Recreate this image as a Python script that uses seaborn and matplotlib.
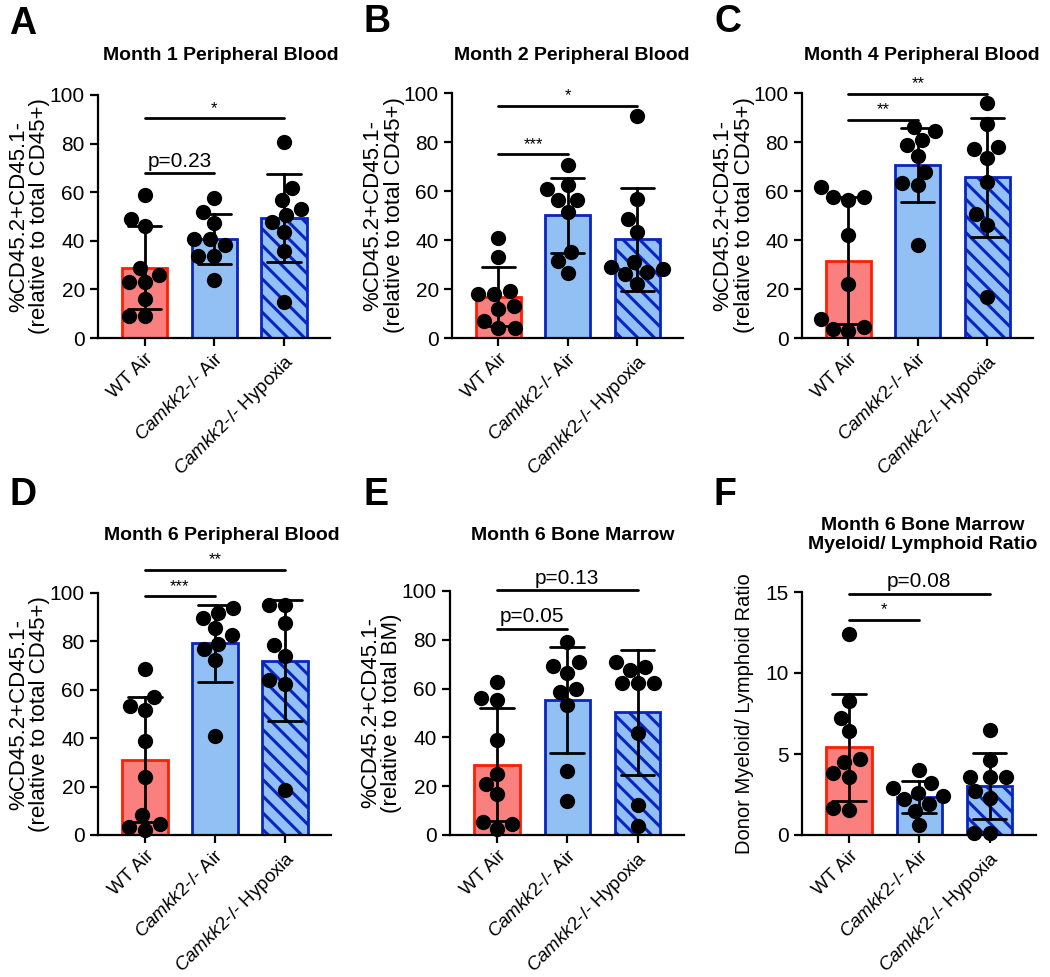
import warnings
import pandas as pd
import seaborn as sns
import matplotlib.pyplot as plt

warnings.filterwarnings('ignore')

groups = ['WT Air', 'Camkk2-/- Air', 'Camkk2-/- Hypoxia']
group_labels = ['WT Air', r'$\mathit{Camkk2}$-/- Air', r'$\mathit{Camkk2}$-/- Hypoxia']

# A - month 1 peripheral blood
a_wt = [59, 49, 46, 29, 26, 23, 23, 16, 9, 9]
a_air = [57.5, 51.8, 47.3, 40.8, 40.8, 38.4, 33.6, 33.6, 24]
a_hyp = [80.8, 61.9, 56.8, 53.2, 50.7, 47.9, 43.8, 35.6, 15]
# B - month 2 peripheral blood
b_wt = [41, 33, 19, 18, 18, 13, 12, 7, 4, 4]
b_air = [70.5, 62.3, 60.9, 56.4, 56.4, 51.4, 34.9, 31.5, 26.7]
b_hyp = [90.7, 56.6, 48.6, 43.4, 31, 29, 28, 27, 26, 22]
# C - month 4 peripheral blood
c_wt = [61.7, 57.6, 57.6, 56.3, 41.9, 22.1, 7.8, 4.4, 3.7, 3.0]
c_air = [86.3, 84.3, 80.9, 78.8, 74.3, 67.9, 63.4, 62.4, 37.8]
c_hyp = [95.9, 87.3, 78.1, 77.2, 73.4, 63.8, 50.8, 46.3, 16.9]
# D - month 6 peripheral blood
d_wt = [68.5, 56.9, 53.5, 51.7, 38.9, 24.1, 8.3, 4.5, 3.3, 2.1]
d_air = [93.8, 91.8, 89.7, 85.4, 82.6, 79.1, 76.7, 72.2, 40.9]
d_hyp = [95.2, 95.2, 87.7, 78.5, 74.0, 64.0, 62.4, 18.6]
# E - month 6 bone marrow
e_wt = [62.6, 56.3, 55.4, 39.0, 25.2, 21.0, 16.6, 5.2, 4.4, 2.3]
e_air = [79.2, 71.0, 69.3, 66.5, 59.7, 58.8, 53.3, 26.1, 13.9]
e_hyp = [71.0, 69.0, 67.6, 62.2, 62.2, 62.2, 41.8, 12.5, 3.5]
# F - month 6 bone marrow myeloid/lymphoid ratio
f_wt = [12.4, 8.3, 7.2, 6.4, 4.7, 4.5, 3.8, 3.6, 1.65, 1.55]
f_air = [4.0, 3.2, 2.9, 2.6, 2.4, 2.2, 1.9, 1.5, 0.6]
f_hyp = [6.5, 4.6, 3.6, 3.6, 3.6, 2.7, 2.3, 0.1, 0.1]

# significance brackets: (from group, to group, height, label)
a_sig = [(0, 1, 67.8, 'p=0.23'), (0, 2, 90.4, '*')]
b_sig = [(0, 1, 74.9, '***'), (0, 2, 94.8, '*')]
c_sig = [(0, 1, 89.1, '**'), (0, 2, 99.6, '**')]
d_sig = [(0, 1, 98.6, '***'), (0, 2, 109.6, '**')]
e_sig = [(0, 1, 84.6, 'p=0.05'), (0, 2, 100.3, 'p=0.13')]
f_sig = [(0, 1, 13.3, '*'), (0, 2, 14.9, 'p=0.08')]

pct_ticks = [0, 20, 40, 60, 80, 100]
ratio_ticks = [0, 5, 10, 15]

fills = ['#FA8080', '#92C0F5', '#92C0F5']
edges = ['#FF1E00', '#0A24C0', '#0A24C0']
hatches = [None, None, '\\\\']

sns.set_style('ticks')
plt.rcParams['font.family'] = ['Liberation Sans', 'DejaVu Sans']
plt.rcParams['mathtext.fontset'] = 'custom'
plt.rcParams['mathtext.it'] = 'Liberation Sans:italic'
plt.rcParams['mathtext.rm'] = 'Liberation Sans'
plt.rcParams['hatch.linewidth'] = 2.2
for key in ['text.color', 'axes.labelcolor', 'xtick.color', 'ytick.color', 'axes.edgecolor']:
    plt.rcParams[key] = 'black'

fig = plt.figure(figsize=(10.5, 9.77), dpi=100)
W, H = 1050, 977


def make_ax(left, top, right, bottom):
    return fig.add_axes([left / W, 1 - bottom / H, (right - left) / W, (bottom - top) / H])


def draw(ax, wt, air, hyp, ymax, yticks, ylabel, sigs, label_size=16):
    df = pd.DataFrame({
        'group': [groups[0]] * len(wt) + [groups[1]] * len(air) + [groups[2]] * len(hyp),
        'value': wt + air + hyp,
    })
    sns.barplot(data=df, x='group', y='value', hue='group', order=groups, hue_order=groups,
                palette=fills, saturation=1, errorbar='sd', capsize=0.48, width=0.65,
                err_kws={'color': 'black', 'linewidth': 2}, legend=False, ax=ax)
    for patch, ec, h in zip(ax.patches, edges, hatches):
        patch.set_edgecolor(ec)
        patch.set_linewidth(2)
        if h:
            patch.set_hatch(h)
    sns.swarmplot(data=df, x='group', y='value', order=groups, color='black', size=11,
                  ax=ax, clip_on=False, zorder=4)
    for x1, x2, y, txt in sigs:
        ax.plot([x1, x2], [y, y], color='black', lw=2, clip_on=False)
        fs = 12 if txt.startswith('*') else 15
        ax.text((x1 + x2) / 2, y + ymax * 0.01, txt, ha='center', va='bottom',
                fontsize=fs, clip_on=False)
    ax.set_ylim(0, ymax)
    ax.set_xlim(-0.67, 2.66)
    ax.set_yticks(yticks)
    ax.set_xticks(range(3))
    ax.set_xticklabels(group_labels, rotation=45, ha='right', rotation_mode='anchor')
    ax.set_xlabel('')
    ax.set_ylabel(ylabel, fontsize=label_size, linespacing=1.0)
    ax.yaxis.set_label_coords(-0.205, 0.5)
    ax.tick_params(direction='out', length=6, width=1.6, labelsize=15)
    ax.tick_params(axis='x', labelsize=13.5, pad=3)
    for s in ['left', 'bottom']:
        ax.spines[s].set_linewidth(1.6)
    sns.despine(ax=ax)


pct_label = '%CD45.2+CD45.1-\n(relative to total CD45+)'

ax_a = make_ax(98, 95, 330, 338)
draw(ax_a, a_wt, a_air, a_hyp, 100, pct_ticks, pct_label, a_sig)
ax_b = make_ax(452, 93, 683, 338)
draw(ax_b, b_wt, b_air, b_hyp, 100, pct_ticks, pct_label, b_sig)
ax_c = make_ax(802, 93, 1033, 338)
draw(ax_c, c_wt, c_air, c_hyp, 100, pct_ticks, pct_label, c_sig)
ax_d = make_ax(98, 593, 331, 835)
draw(ax_d, d_wt, d_air, d_hyp, 100, pct_ticks, pct_label, d_sig)
ax_e = make_ax(450, 591, 684, 835)
draw(ax_e, e_wt, e_air, e_hyp, 100, pct_ticks,
     '%CD45.2+CD45.1-\n(relative to total BM)', e_sig)
ax_f = make_ax(802, 592, 1036, 835)
draw(ax_f, f_wt, f_air, f_hyp, 15, ratio_ticks, 'Donor Myeloid/ Lymphoid Ratio', f_sig,
     label_size=14.5)
ax_f.yaxis.set_label_coords(-0.205, 0.5)

# titles and panel letters
titles = [
    (221, 55, 'Month 1 Peripheral Blood'),
    (572, 55, 'Month 2 Peripheral Blood'),
    (922, 55, 'Month 4 Peripheral Blood'),
    (222, 536, 'Month 6 Peripheral Blood'),
    (573, 536, 'Month 6 Bone Marrow'),
    (923, 535, 'Month 6 Bone Marrow\nMyeloid/ Lymphoid Ratio'),
]
for x, y, t in titles:
    fig.text(x / W, 1 - y / H, t, ha='center', va='center', fontsize=14,
             fontweight='bold', linespacing=1.1)

letters = [(9, 24, 'A'), (364, 22, 'B'), (714, 22, 'C'),
           (9, 495, 'D'), (363, 495, 'E'), (714, 495, 'F')]
for x, y, t in letters:
    fig.text(x / W, 1 - y / H, t, ha='left', va='center', fontsize=27, fontweight='bold')

fig.savefig('out.png', dpi=100)
